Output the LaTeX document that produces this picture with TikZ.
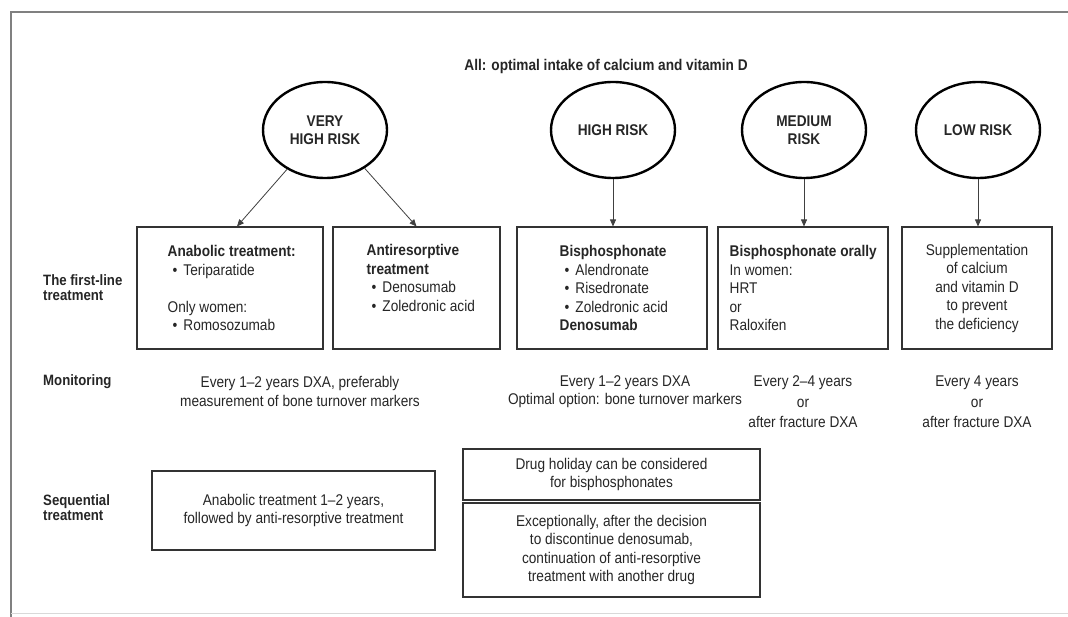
\documentclass[tikz,border=0pt]{standalone}
\usepackage{fontspec}
\setmainfont{Liberation Sans}[FakeStretch=0.88]
\usetikzlibrary{arrows.meta,shapes.geometric}
% small indented bullet used in the treatment lists
\newcommand{\itemdot}{\hspace*{5pt}\textbullet\hspace{6pt}}
\begin{document}
\begin{tikzpicture}[x=1pt,y=-1pt,
  every node/.style={font=\fontsize{15.5}{18.5}\selectfont, text=black!85, inner sep=0pt},
  risk/.style={ellipse, draw=black, line width=2.4pt, minimum width=124pt,
    minimum height=96pt, font=\fontsize{15.5}{17.5}\selectfont\bfseries, align=center},
  tbox/.style={draw=black!80, line width=1.1pt, minimum height=122pt},
  body/.style={align=left, anchor=west},
  mid/.style={align=center},
  lab/.style={font=\fontsize{15}{15}\selectfont\bfseries, align=left, anchor=west},
  arr/.style={draw=black!75, line width=0.8pt, -{Triangle[length=7pt,width=6pt]}},
  frame/.style={draw=black!50, line width=2.2pt}]

\useasboundingbox (0,0) rectangle (1068,617);
\fill[white] (0,0) rectangle (1068,617);

% page frame
\draw[frame] (11,617) -- (11,12) -- (1068,12);
\draw[black!15, line width=1pt] (11,613) -- (1068,613);

% heading
\node[font=\fontsize{15.5}{18.5}\selectfont\bfseries] (title) at (606,66)
  {All: optimal intake of calcium and vitamin D};

% risk categories
\node[risk] (vh)  at (325,130) {VERY\\HIGH RISK};
\node[risk] (hi)  at (613,130) {HIGH RISK};
\node[risk] (med) at (804,130) {MEDIUM\\RISK};
\node[risk] (low) at (978,130) {LOW RISK};

% first-line treatment boxes
\node[tbox, minimum width=186pt] (b1) at (230,288) {};
\node[tbox, minimum width=167pt] (b2) at (416.5,288) {};
\node[tbox, minimum width=190pt] (b3) at (612,288) {};
\node[tbox, minimum width=170pt] (b4) at (803,288) {};
\node[tbox, minimum width=150pt] (b5) at (977,288) {};

\node[body] (t1) at ([xshift=31pt]b1.west)
  {\textbf{Anabolic treatment:}\\\itemdot Teriparatide\\[18.5pt]Only women:\\\itemdot Romosozumab};
\node[body] (t2) at ([xshift=34pt,yshift=10pt]b2.west)
  {\textbf{Antiresorptive}\\\textbf{treatment}\\\itemdot Denosumab\\\itemdot Zoledronic acid};
\node[body] (t3) at ([xshift=43pt]b3.west)
  {\textbf{Bisphosphonate}\\\itemdot Alendronate\\\itemdot Risedronate\\\itemdot Zoledronic acid\\\textbf{Denosumab}};
\node[body] (t4) at ([xshift=12pt]b4.west)
  {\textbf{Bisphosphonate orally}\\In women:\\HRT\\or\\Raloxifen};
\node[mid] (t5) at (b5)
  {Supplementation\\of calcium\\and vitamin D\\to prevent\\the deficiency};

% connectors from risk categories to treatments
\draw[arr] (vh.226) -- ([xshift=7pt]b1.north);
\draw[arr] (vh.-44) -- (b2.north);
\draw[arr] (hi.south) -- (hi.south |- b3.north);
\draw[arr] (med.south) -- (med.south |- b4.north);
\draw[arr] (low.south) -- (low.south |- b5.north);

% row labels
\node[lab] (l1) at (43,288) {The first-line\\treatment};
\node[lab] (l2) at (43,382) {Monitoring};
\node[lab] (l3) at (43,508) {Sequential\\treatment};

% monitoring
\node[mid] (m1) at (300,391.5) {Every 1–2 years DXA, preferably\\measurement of bone turnover markers};
\node[mid] (m2) at (625,391.5) {Every 1–2 years DXA\\Optimal option: bone turnover markers};
\node[mid] (m3) at (803,402) {Every 2–4 years\\[2pt]or\\[2pt]after fracture DXA};
\node[mid] (m4) at (977,402) {Every 4 years\\[2pt]or\\[2pt]after fracture DXA};

% sequential treatment
\node[tbox, minimum width=283pt, minimum height=79pt, align=center] (s1) at (293.5,510.5)
  {Anabolic treatment 1–2 years,\\followed by anti-resorptive treatment};
\node[tbox, minimum width=297pt, minimum height=51pt, align=center] (s2) at (611.5,474.5)
  {Drug holiday can be considered\\for bisphosphonates};
\node[tbox, minimum width=297pt, minimum height=94pt, align=center] (s3) at (611.5,550)
  {Exceptionally, after the decision\\to discontinue denosumab,\\continuation of anti-resorptive\\treatment with another drug};
\end{tikzpicture}
\end{document}
